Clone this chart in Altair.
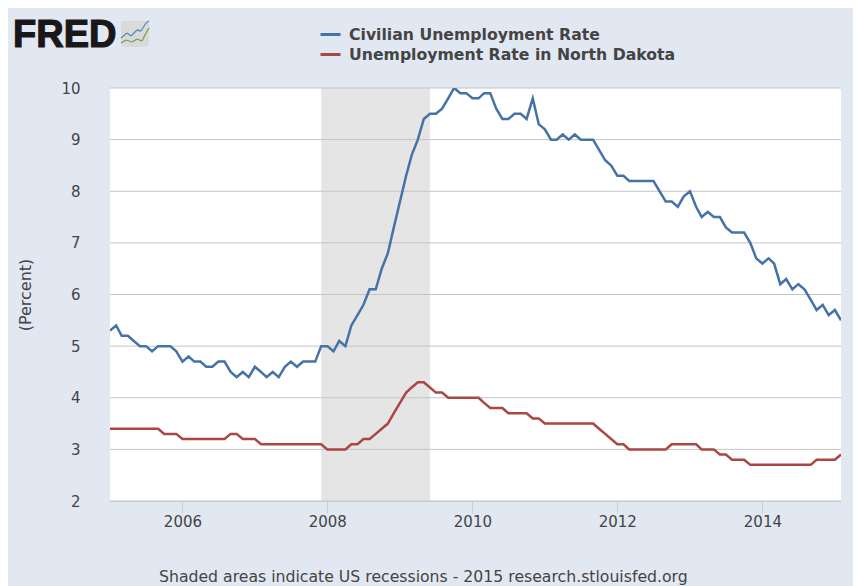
import altair as alt
import pandas as pd

us_rate = [
    5.3, 5.4, 5.2, 5.2, 5.1, 5.0, 5.0, 4.9, 5.0, 5.0, 5.0, 4.9,
    4.7, 4.8, 4.7, 4.7, 4.6, 4.6, 4.7, 4.7, 4.5, 4.4, 4.5, 4.4,
    4.6, 4.5, 4.4, 4.5, 4.4, 4.6, 4.7, 4.6, 4.7, 4.7, 4.7, 5.0,
    5.0, 4.9, 5.1, 5.0, 5.4, 5.6, 5.8, 6.1, 6.1, 6.5, 6.8, 7.3,
    7.8, 8.3, 8.7, 9.0, 9.4, 9.5, 9.5, 9.6, 9.8, 10.0, 9.9, 9.9,
    9.8, 9.8, 9.9, 9.9, 9.6, 9.4, 9.4, 9.5, 9.5, 9.4, 9.8, 9.3,
    9.2, 9.0, 9.0, 9.1, 9.0, 9.1, 9.0, 9.0, 9.0, 8.8, 8.6, 8.5,
    8.3, 8.3, 8.2, 8.2, 8.2, 8.2, 8.2, 8.0, 7.8, 7.8, 7.7, 7.9,
    8.0, 7.7, 7.5, 7.6, 7.5, 7.5, 7.3, 7.2, 7.2, 7.2, 7.0, 6.7,
    6.6, 6.7, 6.6, 6.2, 6.3, 6.1, 6.2, 6.1, 5.9, 5.7, 5.8, 5.6,
    5.7, 5.5,
]
nd_rate = [
    3.4, 3.4, 3.4, 3.4, 3.4, 3.4, 3.4, 3.4, 3.4, 3.3, 3.3, 3.3,
    3.2, 3.2, 3.2, 3.2, 3.2, 3.2, 3.2, 3.2, 3.3, 3.3, 3.2, 3.2,
    3.2, 3.1, 3.1, 3.1, 3.1, 3.1, 3.1, 3.1, 3.1, 3.1, 3.1, 3.1,
    3.0, 3.0, 3.0, 3.0, 3.1, 3.1, 3.2, 3.2, 3.3, 3.4, 3.5, 3.7,
    3.9, 4.1, 4.2, 4.3, 4.3, 4.2, 4.1, 4.1, 4.0, 4.0, 4.0, 4.0,
    4.0, 4.0, 3.9, 3.8, 3.8, 3.8, 3.7, 3.7, 3.7, 3.7, 3.6, 3.6,
    3.5, 3.5, 3.5, 3.5, 3.5, 3.5, 3.5, 3.5, 3.5, 3.4, 3.3, 3.2,
    3.1, 3.1, 3.0, 3.0, 3.0, 3.0, 3.0, 3.0, 3.0, 3.1, 3.1, 3.1,
    3.1, 3.1, 3.0, 3.0, 3.0, 2.9, 2.9, 2.8, 2.8, 2.8, 2.7, 2.7,
    2.7, 2.7, 2.7, 2.7, 2.7, 2.7, 2.7, 2.7, 2.7, 2.8, 2.8, 2.8,
    2.8, 2.9,
]
months = pd.date_range("2005-01-01", periods=len(us_rate), freq="MS").strftime("%Y-%m-%d").tolist()
series_names = ["Civilian Unemployment Rate", "Unemployment Rate in North Dakota"]
series_colors = ["#4572A7", "#AA4643"]
y_ticks = [2, 3, 4, 5, 6, 7, 8, 9, 10]
x_tick_years = [2006, 2008, 2010, 2012, 2014]
recession_start = ["2007-12-01"]
recession_end = ["2009-06-01"]
footer_text = "Shaded areas indicate US recessions - 2015 research.stlouisfed.org"
logo_text = "FRED"
icon_blue = [(121, 38), (127, 33), (131, 36), (137, 30), (141, 31), (146, 23), (149, 21)]
icon_green = [(121, 43), (126, 40), (132, 42), (137, 39), (142, 41), (146, 33), (149, 28)]

BG = "#E1E8F2"
TEXT = "#444444"
LEFT, TOP = 102, 80          # plot origin inside the svg
PW, PH = 731, 413
ox, oy = 110, 88             # plot origin on the page

df = pd.DataFrame(
    {
        "date": months * 2,
        "rate": us_rate + nd_rate,
        "series": [series_names[0]] * len(months) + [series_names[1]] * len(months),
    }
)

x_scale = alt.Scale(type="time", domain=[months[0], months[-1]], nice=False)
y_scale = alt.Scale(domain=[2, 10], nice=False, zero=False)

recession = (
    alt.Chart(pd.DataFrame({"start": recession_start, "end": recession_end}))
    .mark_rect(color="#E5E5E5")
    .encode(
        x=alt.X(
            "start:T",
            scale=x_scale,
            title=None,
            axis=alt.Axis(
                values=[alt.DateTime(year=y, month=1, date=1) for y in x_tick_years],
                format="%Y",
                grid=False,
                tickSize=12,
                tickColor="#C0D0E0",
                domainColor="#C0D0E0",
                domainWidth=1,
                labelFont="DejaVu Sans",
                labelFontSize=15,
                labelColor=TEXT,
                labelPadding=1,
                labelFlush=False,
                labelOverlap=False,
            ),
        ),
        x2="end:T",
    )
)

grid = (
    alt.Chart(pd.DataFrame({"tick": y_ticks}))
    .mark_rule(color="#C4C4C4", strokeWidth=1)
    .encode(
        y=alt.Y(
            "tick:Q",
            scale=y_scale,
            title="(Percent)",
            axis=alt.Axis(
                values=y_ticks,
                grid=False,
                domain=False,
                ticks=False,
                labelPadding=30,
                labelFont="DejaVu Sans",
                labelFontSize=15,
                labelColor=TEXT,
                titleFont="DejaVu Sans",
                titleFontSize=16,
                titleFontWeight="normal",
                titleColor=TEXT,
                titleX=-77,
            ),
        )
    )
)

lines = (
    alt.Chart(df)
    .mark_line(strokeWidth=2.5, interpolate="linear", clip=True)
    .encode(
        x=alt.X("date:T", scale=x_scale, title=None),
        y=alt.Y("rate:Q", scale=y_scale, title="(Percent)"),
        color=alt.Color(
            "series:N",
            scale=alt.Scale(domain=series_names, range=series_colors),
            sort=series_names,
            legend=alt.Legend(
                title=None,
                orient="none",
                legendX=209,
                legendY=-65,
                symbolType="stroke",
                symbolSize=400,
                symbolStrokeWidth=3,
                labelFont="DejaVu Sans",
                labelFontSize=15.7,
                labelFontWeight="bold",
                labelColor=TEXT,
                labelLimit=400,
                labelOffset=7,
                rowPadding=0,
                padding=0,
            ),
        ),
    )
)

footer = (
    alt.Chart(pd.DataFrame({"t": [footer_text]}))
    .mark_text(font="DejaVu Sans", fontSize=15.7, color=TEXT, align="left", baseline="middle")
    .encode(text="t:N", x=alt.value(159 - ox), y=alt.value(577 - oy))
)
logo = (
    alt.Chart(pd.DataFrame({"t": [logo_text]}))
    .mark_text(
        font="Liberation Sans", fontSize=38, fontWeight="bold", color="#1A1718",
        stroke="#1A1718", strokeWidth=1.2, align="left", baseline="alphabetic",
    )
    .encode(text="t:N", x=alt.value(13 - ox), y=alt.value(47 - oy))
)
icon_bg = (
    alt.Chart(pd.DataFrame({"a": [0]}))
    .mark_rect(color="#D9DADB", cornerRadius=3)
    .encode(
        x=alt.value(121 - ox), x2=alt.value(149 - ox),
        y=alt.value(21 - oy), y2=alt.value(47 - oy),
    )
)


def polyline(points, color):
    segs = []
    for (x0, y0), (x1, y1) in zip(points[:-1], points[1:]):
        segs.append(
            alt.Chart(pd.DataFrame({"a": [0]}))
            .mark_rule(color=color, strokeWidth=1.3)
            .encode(
                x=alt.value(x0 - ox), x2=alt.value(x1 - ox),
                y=alt.value(y0 - oy), y2=alt.value(y1 - oy),
            )
        )
    return segs


chart = (
    alt.layer(
        recession, grid, lines, footer, logo, icon_bg,
        *polyline(icon_blue, "#5B8DB0"),
        *polyline(icon_green, "#6FA04A"),
    )
    .properties(
        width=PW,
        height=PH,
        background=BG,
        padding={"left": LEFT, "top": TOP, "right": 12, "bottom": 85},
        autosize=alt.AutoSizeParams(type="none", contains="content"),
    )
    .configure_view(fill="#FFFFFF", stroke=None)
)

chart.save("out.html", embed_options={"renderer": "svg", "actions": False})
